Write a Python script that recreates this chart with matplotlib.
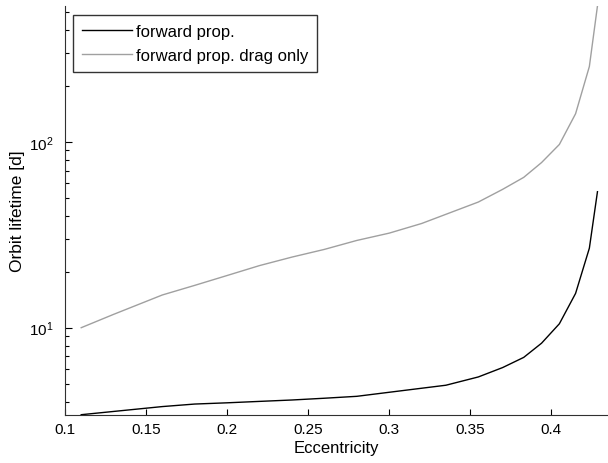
import matplotlib
matplotlib.use('Agg')
import matplotlib.pyplot as plt
import numpy as np

# Eccentricity samples and orbit lifetimes in days
ecc = [0.11, 0.13, 0.16, 0.18, 0.20, 0.22, 0.24, 0.26, 0.28, 0.30,
       0.32, 0.335, 0.355, 0.37, 0.383, 0.394, 0.405, 0.415, 0.4235, 0.4285]
life_full = [3.40, 3.54, 3.76, 3.88, 3.94, 4.01, 4.08, 4.17, 4.27, 4.49,
             4.72, 4.90, 5.43, 6.10, 6.92, 8.25, 10.5, 15.3, 26.8, 54.0]
life_drag = [10.0, 11.8, 15.0, 16.9, 19.1, 21.6, 24.0, 26.4, 29.5, 32.3,
             36.4, 40.8, 47.5, 55.6, 64.5, 77.5, 97.0, 142.0, 255.0, 540.0]

labels = ['forward prop.', 'forward prop. drag only']

plt.rcParams['font.family'] = ['Liberation Sans', 'DejaVu Sans']
plt.rcParams['mathtext.fontset'] = 'custom'
plt.rcParams['mathtext.rm'] = 'Liberation Sans'

fig = plt.figure(figsize=(6.08, 4.64), dpi=100)
ax = fig.add_axes([65 / 608, 1 - 415.7 / 464, 1 - 65 / 608, (415.7 - 7) / 464])

ax.plot(ecc, life_full, color='black', lw=1.0, label=labels[0])
ax.plot(ecc, life_drag, color='#a0a0a0', lw=1.0, label=labels[1])

ax.set_yscale('log')
ax.set_xlim(0.1, 0.435)
ax.set_ylim(3.40, 540)
ax.set_xticks([0.1, 0.15, 0.2, 0.25, 0.3, 0.35, 0.4])
ax.set_xticklabels(['0.1', '0.15', '0.2', '0.25', '0.3', '0.35', '0.4'])

for s in ['top', 'right']:
    ax.spines[s].set_visible(False)
for s in ['left', 'bottom']:
    ax.spines[s].set_color('#303030')
    ax.spines[s].set_linewidth(0.8)

ax.tick_params(axis='both', which='both', direction='in', labelsize=11, colors='black')
ax.tick_params(axis='x', which='major', length=4, width=0.8, pad=5)
ax.tick_params(axis='y', which='major', length=5, width=0.8, pad=8)
ax.tick_params(axis='y', which='minor', length=3, width=0.8)

ax.set_xlabel('Eccentricity', fontsize=12, labelpad=3)
ax.set_ylabel('Orbit lifetime [d]', fontsize=12.5, labelpad=3)

leg = ax.legend(loc='upper left', bbox_to_anchor=(73 / 608, 1 - 15.7 / 464),
                bbox_transform=fig.transFigure, borderaxespad=0,
                fontsize=12, frameon=True, fancybox=False,
                handlelength=3.0, handletextpad=0.2, labelspacing=0.55,
                borderpad=0.55)
leg.get_frame().set_edgecolor('black')
leg.get_frame().set_linewidth(1.0)

fig.savefig('out.png', dpi=100)
